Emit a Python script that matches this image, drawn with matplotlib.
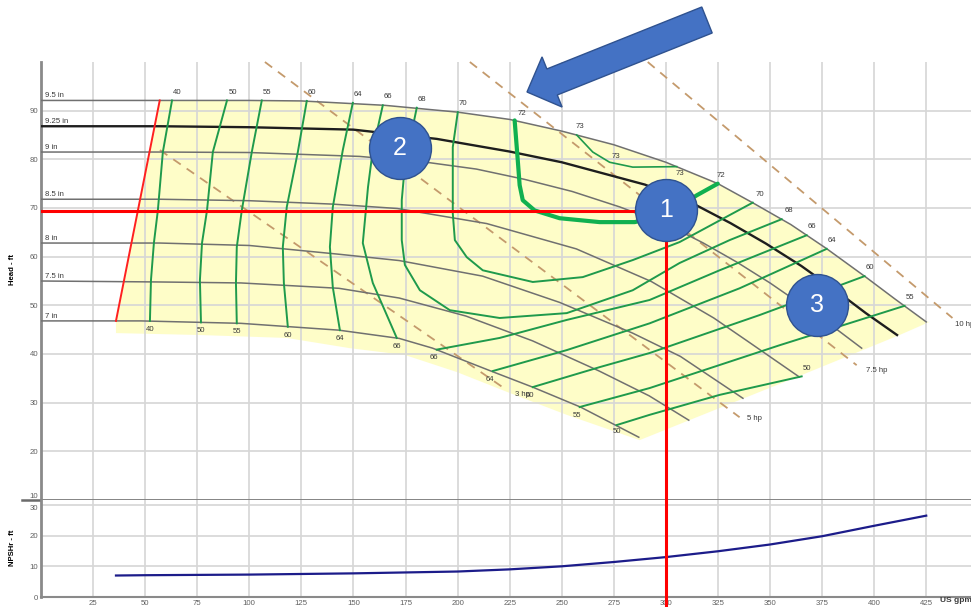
import matplotlib
matplotlib.use("Agg")
import matplotlib.pyplot as plt
from matplotlib.patches import FancyArrow

plt.rcParams["font.family"] = ["Liberation Sans", "DejaVu Sans"]

# impeller curves: flow (US gpm) / head (ft)
Q_950 = [0, 57, 100, 125, 165, 200, 225, 250, 275, 300, 325, 342, 360, 377, 396, 410, 425]
H_950 = [92.1, 92.1, 92.1, 92.0, 91.1, 89.7, 88.2, 85.8, 83.0, 79.4, 75.0, 71.0, 66.6, 61.7, 55.8, 51.3, 46.6]
Q_925 = [0, 57, 100, 150, 190, 225, 250, 290, 314, 331, 348, 365, 383, 396, 411]
H_925 = [86.8, 86.8, 86.6, 86.1, 84.2, 81.6, 79.4, 74.8, 70.7, 66.9, 62.7, 58.1, 52.6, 48.4, 43.9]
Q_900 = [0, 57, 100, 153, 185, 209, 232, 255, 278, 302, 318, 334, 350, 368, 381, 394]
H_900 = [81.5, 81.5, 81.4, 80.6, 79.4, 78.0, 75.9, 73.4, 70.2, 66.3, 62.8, 58.9, 54.6, 49.3, 45.4, 41.2]
Q_850 = [0, 57, 100, 140, 171, 214, 257, 293, 323, 339, 364]
H_850 = [71.8, 71.8, 71.5, 70.8, 69.9, 66.8, 61.6, 54.9, 47.4, 42.7, 35.3]
Q_800 = [0, 57, 100, 143, 172, 212, 249, 284, 307, 337]
H_800 = [62.8, 62.8, 62.3, 60.5, 59.2, 56.0, 50.6, 44.3, 39.5, 30.9]
Q_750 = [0, 57, 96, 143, 172, 204, 236, 268, 292, 311]
H_750 = [55.0, 54.8, 54.6, 53.5, 51.5, 47.8, 42.7, 36.5, 31.4, 26.4]
Q_700 = [0, 48, 96, 143, 172, 188, 216, 236, 259, 287]
H_700 = [46.8, 46.8, 46.3, 44.9, 43.2, 41.2, 36.5, 33.2, 29.1, 22.9]
IMP_NAMES = ["9.5 in", "9.25 in", "9 in", "8.5 in", "8 in", "7.5 in", "7 in"]

# minimum-flow line and lower edge of the allowed region
MIN_Q = [57, 36]
MIN_H = [92.1, 46.8]
EDGE_Q = [36, 76.3, 118, 148.3, 174.7, 199.6, 225, 252.4, 287.4, 364.2, 412.2, 426.6]
EDGE_H = [44.3, 43.9, 43.3, 41.2, 39.8, 36.3, 32.0, 27.5, 22.3, 35.5, 43.9, 46.6]

# efficiency contours (%)
E40_Q = [62.9, 58.5, 56.1, 54.2, 52.8, 52.3]
E40_H = [92.1, 81.5, 69.5, 62.8, 55.2, 46.8]
E50_Q = [89.3, 82.5, 79.7, 77.3, 76.3, 76.8]
E50_H = [92.1, 81.5, 69.5, 62.8, 55.2, 46.5]
E55_Q = [106.0, 101.2, 96.4, 94.0, 93.6, 94.0]
E55_H = [92.1, 81.5, 69.5, 62.0, 54.6, 46.3]
E60_Q = [127.6, 123.3, 118.0, 116.1, 116.6, 118.5]
E60_H = [92.0, 81.5, 70.2, 62.0, 54.6, 45.6]
E64_Q = [149.7, 144.9, 140.1, 138.7, 140.1, 143.5]
E64_H = [91.6, 81.9, 70.2, 62.0, 53.7, 44.9]
E66A_Q = [164.1, 159.3, 157.0, 154.5, 159.3, 170.8]
E66A_H = [91.1, 81.9, 74.3, 62.8, 54.6, 43.3]
E68_Q = [180.4, 174.7, 173.2, 173.2, 174.7, 181.9, 196.3, 220.2, 252.4, 284.1, 306.6, 330.6, 355.6]
E68_H = [90.6, 78.8, 71.6, 63.4, 58.3, 53.1, 49.0, 47.4, 48.4, 53.1, 58.7, 63.4, 67.7]
E70_Q = [200.1, 197.7, 197.7, 198.7, 204.4, 212.1, 236.1, 260.1, 284.1, 306.6, 341.7]
E70_H = [89.7, 82.5, 68.9, 63.4, 59.9, 57.2, 54.8, 55.8, 59.3, 63.0, 71.1]
E72_Q = [227.4, 228.9, 229.8, 231.3, 237.0, 249.0, 268.2, 285.0, 300.0, 314.8, 324.9]
E72_H = [88.0, 79.8, 74.7, 71.6, 69.5, 67.9, 67.1, 67.1, 68.5, 72.6, 75.0]
E73_Q = [257.2, 264.9, 273.0, 284.1, 305.2]
E73_H = [85.0, 81.5, 79.4, 78.4, 78.5]
E66B_Q = [190.0, 220.2, 252.4, 292.2, 325.8, 367.6]
E66B_H = [40.9, 43.3, 47.0, 51.1, 57.2, 64.4]
E64B_Q = [216.9, 252.4, 292.2, 335.4, 377.2]
E64B_H = [36.5, 40.8, 46.3, 53.5, 61.6]
E60B_Q = [236.1, 268.2, 292.2, 345.0, 395.4]
E60B_H = [33.2, 37.3, 40.2, 48.0, 56.0]
E55B_Q = [258.6, 292.2, 354.6, 414.6]
E55B_H = [29.1, 33.0, 41.8, 49.9]
E50B_Q = [276.4, 292.2, 325.8, 365.2]
E50B_H = [25.4, 27.5, 31.6, 35.4]

# power lines (hp)
P3_Q, P3_H = [57.1, 223.6], [81.9, 32.6]
P5_Q, P5_H = [107.5, 335.4], [100.0, 27.0]
P75_Q, P75_H = [205.9, 391.6], [100.0, 37.7]
P10_Q, P10_H = [291.3, 437.6], [100.0, 47.4]

# NPSHr
NPSH_Q = [36, 50, 100, 150, 200, 225, 250, 275, 300, 325, 350, 375, 400, 425]
NPSH_FT = [7.0, 7.1, 7.3, 7.7, 8.3, 9.0, 10.0, 11.4, 13.0, 14.9, 17.1, 19.8, 23.2, 26.5]

# duty point + callouts
DUTY_Q, DUTY_H = 300, 69.3
MARK_Q = [300, 172.3, 372.4]
MARK_H = [69.6, 82.3, 50.0]
MARK_TXT = ["1", "2", "3"]

X_TICKS = list(range(25, 426, 25))

GRID = "#d6d6d6"
GREEN = "#1f9a4c"
TXT = "#3a3a3a"
FS = 5.6

fig = plt.figure(figsize=(9.71, 6.07), dpi=100)
ax = fig.add_axes([41 / 971, 107 / 607, 930 / 971, 438 / 607])
axn = fig.add_axes([41 / 971, 10 / 607, 930 / 971, 97 / 607])

for a in (ax, axn):
    a.set_xlim(0, 446.5)
    a.set_xticks(X_TICKS)
    a.grid(True, color=GRID, lw=1.2)
    a.tick_params(length=0, labelsize=FS, colors="#606060", pad=2)
    for s in ("top", "right"):
        a.spines[s].set_visible(False)
    a.spines["left"].set_color("#8a8a8a")
    a.spines["left"].set_linewidth(2)

ax.set_ylim(10, 100)
ax.set_yticks(range(10, 91, 10))
ax.tick_params(axis="x", labelbottom=False)
ax.spines["bottom"].set_visible(False)
ax.get_yticklabels()[0].set_va("bottom")

axn.set_ylim(0, 31.6)
axn.set_yticks([0, 10, 20, 30])
axn.spines["bottom"].set_color("#8a8a8a")
axn.spines["bottom"].set_linewidth(1.5)
axn.get_yticklabels()[-1].set_va("top")

# divider between the two panels
ax.plot([-9, 446.5], [10, 10], color="#6b6b6b", lw=1.8, clip_on=False, zorder=6)

# allowed operating region
top = [(q, h) for q, h in zip(Q_950, H_950) if q >= 57]
poly = [(MIN_Q[1], MIN_H[1])] + top + list(zip(EDGE_Q, EDGE_H))[::-1]
ax.fill([p[0] for p in poly], [p[1] for p in poly], color="#fefdc8", lw=0, zorder=1)

# impeller curves
imp = [(Q_950, H_950), (Q_925, H_925), (Q_900, H_900), (Q_850, H_850),
       (Q_800, H_800), (Q_750, H_750), (Q_700, H_700)]
for (q, h), name in zip(imp, IMP_NAMES):
    dark = name == "9.25 in"
    ax.plot(q, h, color="#1e1e1e" if dark else "#707070", lw=1.7 if dark else 1.1, zorder=3)
    ax.annotate(name, (q[0], h[0]), xytext=(3, 1), textcoords="offset points",
                fontsize=FS, color=TXT, va="bottom", ha="left")

ax.plot(MIN_Q, MIN_H, color="#ff2020", lw=1.4, zorder=3)

# power lines
for q, h, lab, off in [(P3_Q, P3_H, "3 hp", (6, -3)), (P5_Q, P5_H, "5 hp", (5, -1)),
                       (P75_Q, P75_H, "7.5 hp", (7, -4)), (P10_Q, P10_H, "10 hp", (2, -5))]:
    ax.plot(q, h, color="#c49a6c", lw=1.3, ls=(0, (5, 4)), zorder=2.5, clip_on=False)
    ax.annotate(lab, (q[-1], h[-1]), xytext=off, textcoords="offset points",
                fontsize=FS, color=TXT, va="center", ha="left", annotation_clip=False)

# efficiency contours
def tag(q, h, txt, off):
    ax.annotate(txt, (q, h), xytext=off, textcoords="offset points",
                fontsize=FS, color=TXT, ha="center", va="center", zorder=7)

left = [(E40_Q, E40_H, "40"), (E50_Q, E50_H, "50"), (E55_Q, E55_H, "55"),
        (E60_Q, E60_H, "60"), (E64_Q, E64_H, "64"), (E66A_Q, E66A_H, "66")]
for q, h, lab in left:
    ax.plot(q, h, color=GREEN, lw=1.4, zorder=4)
    tag(q[0], h[0], lab, (4, 6))
    tag(q[-1], h[-1], lab, (0, -6))

for q, h, lab in [(E68_Q, E68_H, "68"), (E70_Q, E70_H, "70")]:
    ax.plot(q, h, color=GREEN, lw=1.4, zorder=4)
    tag(q[0], h[0], lab, (4, 6))
    tag(q[-1], h[-1], lab, (5, 6))

right = [(E66B_Q, E66B_H, "66"), (E64B_Q, E64B_H, "64"), (E60B_Q, E60B_H, "60"),
         (E55B_Q, E55B_H, "55")]
for q, h, lab in right:
    ax.plot(q, h, color=GREEN, lw=1.4, zorder=4)
    tag(q[0], h[0], lab, (-2, -6))
    tag(q[-1], h[-1], lab, (4, 6))
ax.plot(E50B_Q, E50B_H, color=GREEN, lw=1.4, zorder=4)
tag(E50B_Q[0], E50B_H[0], "50", (0, -5))
tag(E50B_Q[-1], E50B_H[-1], "50", (4, 6))

ax.plot(E73_Q, E73_H, color=GREEN, lw=1.2, zorder=4)
tag(E73_Q[0], E73_H[0], "73", (2, 6))
tag(E73_Q[-1], E73_H[-1], "73", (2, -5))
tag(E73_Q[1] + 11, E73_H[1] - 1, "73", (0, 0))

ax.plot(E72_Q, E72_H, color="#10b050", lw=3.0, zorder=4.5, solid_capstyle="round")
tag(E72_Q[0], E72_H[0], "72", (5, 5))
tag(E72_Q[-1], E72_H[-1], "72", (2, 6))

# duty point lines
ax.plot([0, DUTY_Q], [DUTY_H, DUTY_H], color="#ff0000", lw=2.2, zorder=5)
ax.plot([DUTY_Q, DUTY_Q], [DUTY_H, 10], color="#ff0000", lw=2.2, zorder=5)
axn.plot([DUTY_Q, DUTY_Q], [31.6, -3.3], color="#ff0000", lw=2.2, zorder=5, clip_on=False)

# NPSHr curve
axn.plot(NPSH_Q, NPSH_FT, color="#1c1c8a", lw=1.6, zorder=4)

# numbered callouts
ax.scatter(MARK_Q, MARK_H, s=1990, color="#4472c4", edgecolor="#2f528f", lw=1,
           zorder=8, clip_on=False)
for q, h, t in zip(MARK_Q, MARK_H, MARK_TXT):
    ax.text(q, h, t, color="white", fontsize=18, ha="center", va="center", zorder=9)

fig.text(12 / 971, 1 - 270 / 607, "Head - ft", rotation=90, fontsize=FS, weight="bold",
         ha="center", va="center")
fig.text(12 / 971, 1 - 548 / 607, "NPSHr - ft", rotation=90, fontsize=FS, weight="bold",
         ha="center", va="center")
fig.text(940 / 971, 1 - 601 / 607, "US gpm", fontsize=6, weight="bold", color=TXT,
         ha="left", va="center")

# pointer arrow drawn in pixel space
ov = fig.add_axes([0, 0, 1, 1], zorder=20)
ov.set_xlim(0, 971)
ov.set_ylim(607, 0)
ov.axis("off")
ov.patch.set_alpha(0)
ov.add_patch(FancyArrow(707, 20, -180, 72, width=28, head_width=54, head_length=27,
                        length_includes_head=True, fc="#4472c4", ec="#2f528f", lw=1))

fig.savefig("out.png", dpi=100)
